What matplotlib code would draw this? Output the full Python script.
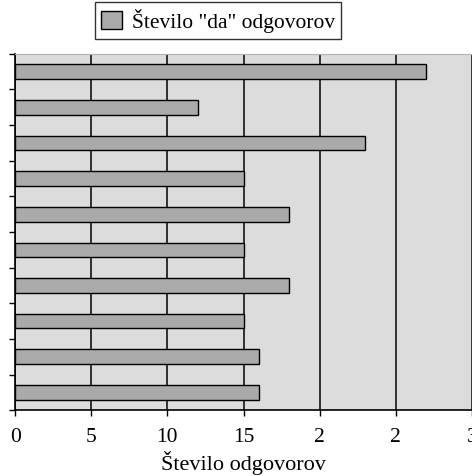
import matplotlib.pyplot as plt
import numpy as np
from matplotlib.patches import Patch

# values from top bar to bottom bar
values = [27, 12, 23, 15, 18, 15, 18, 15, 16, 16]
x_ticks = [0, 5, 10, 15, 20, 25, 30]
x_tick_labels = ["0", "5", "10", "15", "2", "2", "3"]
legend_label = 'Število "da" odgovorov'
x_label = "Število odgovorov"

plt.rcParams["font.family"] = ["Liberation Serif", "DejaVu Serif"]

fig = plt.figure(figsize=(4.72, 4.77), dpi=100)
ax = fig.add_axes([0.032, 0.138, 0.968, 0.747])

n = len(values)
ypos = np.arange(n)[::-1] + 0.5

ax.set_facecolor("#dcdcdc")
ax.set_axisbelow(True)
ax.grid(axis="x", color="#222222", linewidth=1.3)
ax.barh(ypos, values, height=0.41, color="#aaaaab",
        edgecolor="black", linewidth=1.0, zorder=3)

ax.set_xlim(0, 30)
ax.set_ylim(0, n)
ax.set_xticks(x_ticks)
ax.set_xticklabels(x_tick_labels, fontsize=15.5)
ax.set_yticks(range(n + 1))
ax.set_yticklabels([])
ax.tick_params(axis="both", direction="out", length=4, width=1, color="black")
ax.tick_params(axis="x", pad=8)

for side in ["top", "right"]:
    ax.spines[side].set_color("#b0b0b0")
    ax.spines[side].set_linewidth(0.8)
for side in ["left", "bottom"]:
    ax.spines[side].set_color("black")
    ax.spines[side].set_linewidth(1.2)

ax.set_xlabel(x_label, fontsize=16, labelpad=3)

handle = Patch(facecolor="#aaaaab", edgecolor="black", linewidth=1.0)
fig.legend([handle], [legend_label], loc="center",
           bbox_to_anchor=(0.462, 0.955), fontsize=15.5,
           frameon=True, fancybox=False, edgecolor="black",
           handlelength=0.95, handleheight=0.95, handletextpad=0.45,
           borderpad=0.3, borderaxespad=0)

fig.savefig("out.png", dpi=100)
